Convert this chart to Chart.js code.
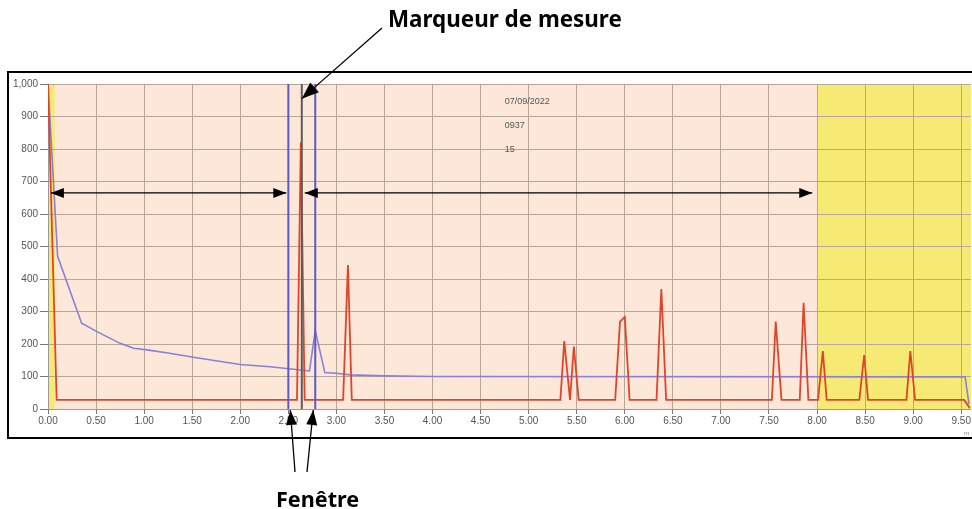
<!DOCTYPE html>
<html><head><meta charset="utf-8">
<script src="https://cdn.jsdelivr.net/npm/chart.js@4/dist/chart.umd.min.js"></script>
<style>html,body{margin:0;padding:0;background:#fff;}canvas{display:block;}</style>
</head><body>
<canvas id="c" width="972" height="509"></canvas>
<script>
// ---- data ----
const xTickValues = [0,0.5,1,1.5,2,2.5,3,3.5,4,4.5,5,5.5,6,6.5,7,7.5,8,8.5,9,9.5];
const xTickLabels = ['0.00','0.50','1.00','1.50','2.00','2.50','3.00','3.50','4.00','4.50','5.00','5.50','6.00','6.50','7.00','7.50','8.00','8.50','9.00','9.50'];
const yTickValues = [0,100,200,300,400,500,600,700,800,900,1000];
const yTickLabels = ['0','100','200','300','400','500','600','700','800','900','1,000'];

const redX = [0,0.09,2.59,2.63,2.67,3.07,3.12,3.16,5.33,5.37,5.43,5.47,5.52,5.90,5.95,6.00,6.05,6.33,6.38,6.43,7.53,7.57,7.63,7.82,7.86,7.91,8.01,8.06,8.10,8.44,8.49,8.53,8.93,8.97,9.02,9.53,9.59];
const redY = [1000,28,28,820,28,28,443,28,28,209,28,192,28,28,269,283,28,28,369,28,28,269,28,28,327,28,28,178,28,28,166,28,28,178,28,28,2];

const blueX = [0,0.10,0.35,0.51,0.75,0.89,1.03,1.23,1.58,2.00,2.31,2.72,2.78,2.88,3.00,3.14,3.50,4.00,9.54,9.58];
const blueY = [1000,470,264,238,202,187,182,173,156,137,130,117,241,112,110,105,102,100,99,15];

const windowLeft = 2.50, windowRight = 2.78, measureMarker = 2.64;
const yellowBands = [[0,0.07],[8.0,9.6]];
const infoLines = ['07/09/2022','0937','15'];
const titleText = 'Marqueur de mesure';
const windowText = 'Fenêtre';

const pts = (xs, ys) => xs.map((v,i)=>({x:v, y:ys[i]}));
const vline = v => [{x:v,y:0},{x:v,y:1000}];

function arrowHead(ctx, x1,y1,x2,y2, len, w){
  const a = Math.atan2(y2-y1, x2-x1), c=Math.cos(a), s=Math.sin(a);
  ctx.beginPath();
  ctx.moveTo(x2,y2);
  ctx.lineTo(x2-len*c + w/2*s, y2-len*s - w/2*c);
  ctx.lineTo(x2-len*c - w/2*s, y2-len*s + w/2*c);
  ctx.closePath(); ctx.fill();
}
function arrow(ctx,x1,y1,x2,y2,len,w,both){
  ctx.beginPath(); ctx.moveTo(x1,y1); ctx.lineTo(x2,y2); ctx.stroke();
  arrowHead(ctx,x1,y1,x2,y2,len,w);
  if(both) arrowHead(ctx,x2,y2,x1,y1,len,w);
}

const bgPlugin = {
  id:'bg',
  beforeDraw(chart){
    const {ctx, chartArea:a, scales:{x}} = chart;
    ctx.save();
    ctx.fillStyle = '#fce7d9';
    ctx.fillRect(a.left,a.top,a.right-a.left,a.bottom-a.top);
    ctx.fillStyle = '#f7ea74';
    yellowBands.forEach(([s,e])=>{
      const x0 = x.getPixelForValue(s), x1 = Math.min(x.getPixelForValue(e), a.right);
      ctx.fillRect(x0,a.top,x1-x0,a.bottom-a.top);
    });
    ctx.restore();
  }
};

const annPlugin = {
  id:'ann',
  afterDraw(chart){
    const {ctx, chartArea:a, scales:{x,y}} = chart;
    ctx.save();
    ctx.strokeStyle = '#000'; ctx.lineWidth = 2;
    ctx.strokeRect(8,72,990,366);
    ctx.fillStyle = '#555'; ctx.font = '9px "Liberation Sans", Arial, sans-serif';
    ctx.textBaseline = 'middle'; ctx.textAlign = 'left';
    const ix = x.getPixelForValue(4.75);
    [945,872,797].forEach((v,i)=> ctx.fillText(infoLines[i], ix, y.getPixelForValue(v)));
    ctx.font = '6px "Liberation Sans", Arial, sans-serif'; ctx.fillStyle='#777';
    ctx.fillText('m', 964, 433);
    ctx.strokeStyle = '#000'; ctx.fillStyle = '#000'; ctx.lineWidth = 1.3;
    const ay = y.getPixelForValue(665);
    arrow(ctx, x.getPixelForValue(0.03), ay, x.getPixelForValue(windowLeft)-2, ay, 13, 10, true);
    arrow(ctx, x.getPixelForValue(measureMarker)+3, ay, x.getPixelForValue(7.95), ay, 13, 10, true);
    arrow(ctx, 382, 28, x.getPixelForValue(measureMarker), y.getPixelForValue(955), 17, 13, false);
    arrow(ctx, 295, 472, x.getPixelForValue(windowLeft)+2, a.bottom+1, 15, 11, false);
    arrow(ctx, 307, 472, x.getPixelForValue(windowRight)-2, a.bottom+1, 15, 11, false);
    ctx.fillStyle = '#000'; ctx.textBaseline = 'alphabetic';
    ctx.font = 'bold 21px "Noto Sans", "Open Sans", sans-serif';
    let w = ctx.measureText(titleText).width;
    let fs = 21*234/w;
    ctx.font = 'bold '+fs.toFixed(1)+'px "Noto Sans", "Open Sans", sans-serif';
    ctx.fillText(titleText, 388, 27);
    ctx.font = 'bold 21px "Noto Sans", "Open Sans", sans-serif';
    w = ctx.measureText(windowText).width;
    fs = 21*83/w;
    ctx.font = 'bold '+fs.toFixed(1)+'px "Noto Sans", "Open Sans", sans-serif';
    ctx.fillText(windowText, 276, 507);
    ctx.restore();
  }
};

const tickFont = {family:'"Liberation Sans", Arial, sans-serif', size:10};

new Chart(document.getElementById('c'), {
  type:'line',
  data:{
    datasets:[
      {data:vline(measureMarker), borderColor:'#5a5a5a', borderWidth:2, pointRadius:0, order:0},
      {data:vline(windowLeft), borderColor:'#5b5bc4', borderWidth:2, pointRadius:0, order:0},
      {data:vline(windowRight), borderColor:'#5b5bc4', borderWidth:2, pointRadius:0, order:0},
      {data:pts(redX,redY), borderColor:'#e0452c', borderWidth:1.8, pointRadius:0, order:1},
      {data:pts(blueX,blueY), borderColor:'#8682d6', borderWidth:1.6, pointRadius:0, order:2}
    ]
  },
  options:{
    responsive:false, animation:false, devicePixelRatio:1,
    layout:{padding:{left:0, top:84, right:1, bottom:70}},
    plugins:{legend:{display:false}, tooltip:{enabled:false}},
    elements:{line:{tension:0}},
    scales:{
      x:{type:'linear', min:0, max:9.6,
        afterBuildTicks(s){ s.ticks = xTickValues.map(v=>({value:v})); },
        afterFit(s){ s.height = 30; },
        ticks:{callback:(v,i)=>xTickLabels[i], font:tickFont, color:'#555', padding:1, maxRotation:0, autoSkip:false},
        grid:{color:'#b8a799', lineWidth:1, tickLength:5, tickColor:'#777'},
        border:{color:'#999'}
      },
      y:{type:'linear', min:0, max:1000,
        afterBuildTicks(s){ s.ticks = yTickValues.map(v=>({value:v})); },
        afterFit(s){ s.width = 48; },
        ticks:{callback:(v,i)=>yTickLabels[i], font:tickFont, color:'#555', padding:2, autoSkip:false},
        grid:{color:'#b8a799', lineWidth:1, tickLength:8, tickColor:'#777'},
        border:{color:'#999'}
      }
    }
  },
  plugins:[bgPlugin, annPlugin]
});
</script>
</body></html>
